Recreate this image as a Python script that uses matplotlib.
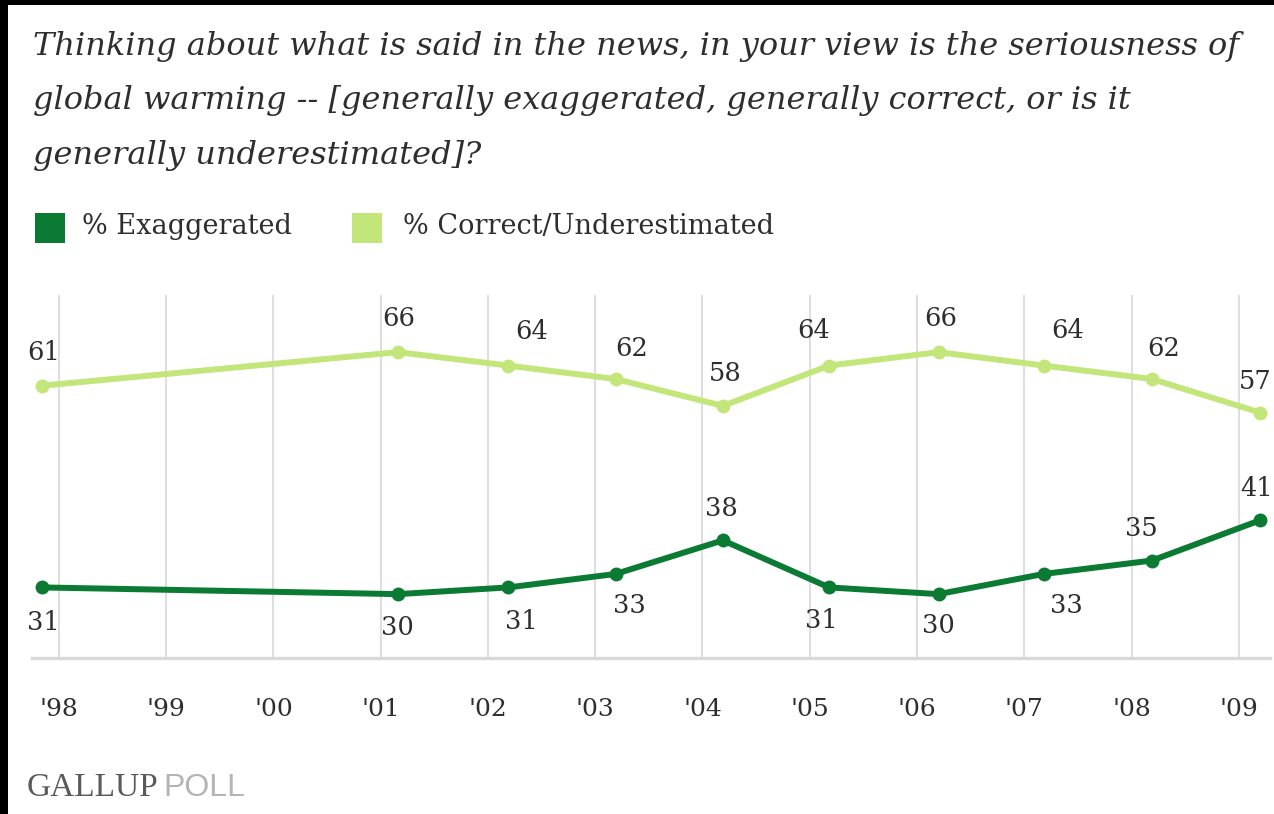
import matplotlib
matplotlib.use("Agg")
import matplotlib.pyplot as plt
from matplotlib.patches import Rectangle

# Poll dates as decimal years, values in percent
poll_dates = [1997.84, 2001.16, 2002.19, 2003.19, 2004.19, 2005.18,
              2006.20, 2007.18, 2008.19, 2009.20]
exaggerated = [31, 30, 31, 33, 38, 31, 30, 33, 35, 41]
correct_under = [61, 66, 64, 62, 58, 64, 66, 64, 62, 57]

tick_years = list(range(1998, 2010))
tick_labels = ["'98", "'99", "'00", "'01", "'02", "'03", "'04", "'05",
               "'06", "'07", "'08", "'09"]

series_names = ["% Exaggerated", "% Correct/Underestimated"]
title = ("Thinking about what is said in the news, in your view is the seriousness of\n"
         "global warming -- [generally exaggerated, generally correct, or is it\n"
         "generally underestimated]?")

DARK = "#0b7a33"
LIGHT = "#c3e67a"
TEXT = "#2e2e2e"
GRID = "#d4d4d4"

# label offsets (pixels) relative to each point
light_off = [(2, 33), (1, 34), (23, 34), (16, 31), (2, 32), (-15, 35),
             (2, 34), (24, 35), (12, 31), (-5, 31)]
dark_off = [(2, -35), (0, -33), (13, -34), (14, -32), (-1, 32), (-8, -33),
            (0, -31), (23, -32), (-11, 32), (-4, 32)]

W, H = 1274, 814
fig = plt.figure(figsize=(W / 100, H / 100), dpi=100)
fig.patch.set_facecolor("white")

def fx(px):
    return px / W

def fy(py):
    return 1 - py / H

ax = fig.add_axes([fx(32), fy(658), fx(1270) - fx(32), fy(295) - fy(658)])
ax.set_xlim(1997.75, 2009.29)
ax.set_ylim(20.5, 74.5)
ax.set_facecolor("white")
for s in ["top", "right", "left"]:
    ax.spines[s].set_visible(False)
ax.spines["bottom"].set_color("#d8d8d8")
ax.spines["bottom"].set_linewidth(2.4)

ax.set_xticks(tick_years)
ax.set_xticklabels(tick_labels, fontfamily="DejaVu Serif", fontsize=18, color=TEXT)
ax.tick_params(axis="x", length=0, pad=29)
ax.set_yticks([])
for yr in tick_years:
    ax.axvline(yr, color=GRID, lw=1.1, zorder=0)

ax.plot(poll_dates, correct_under, color=LIGHT, lw=4.3, marker="o", ms=9,
        solid_capstyle="round", zorder=3, clip_on=False)
ax.plot(poll_dates, exaggerated, color=DARK, lw=4.3, marker="o", ms=9,
        solid_capstyle="round", zorder=3, clip_on=False)

for xv, yv, (dx, dy) in zip(poll_dates, correct_under, light_off):
    ax.annotate(str(yv), (xv, yv), xytext=(dx, dy), textcoords="offset pixels",
                ha="center", va="center", fontfamily="DejaVu Serif",
                fontsize=18.5, color=TEXT, annotation_clip=False)
for xv, yv, (dx, dy) in zip(poll_dates, exaggerated, dark_off):
    ax.annotate(str(yv), (xv, yv), xytext=(dx, dy), textcoords="offset pixels",
                ha="center", va="center", fontfamily="DejaVu Serif",
                fontsize=18.5, color=TEXT, annotation_clip=False)

# question text
fig.text(fx(33), fy(31), title, ha="left", va="top", fontfamily="DejaVu Serif",
         style="italic", fontsize=23, color=TEXT, linespacing=1.97)

# legend
fig.add_artist(Rectangle((fx(35), fy(243)), fx(30), fy(213) - fy(243),
                         transform=fig.transFigure, color=DARK, lw=0))
fig.text(fx(82), fy(227), series_names[0], ha="left", va="center",
         fontfamily="DejaVu Serif", fontsize=19.5, color=TEXT)
fig.add_artist(Rectangle((fx(352), fy(243)), fx(30), fy(213) - fy(243),
                         transform=fig.transFigure, color=LIGHT, lw=0))
fig.text(fx(403), fy(227), series_names[1], ha="left", va="center",
         fontfamily="DejaVu Serif", fontsize=19.5, color=TEXT)

# source mark
fig.text(fx(27), fy(788), "GALLUP", ha="left", va="center",
         fontfamily="Liberation Serif", fontsize=24, color="#5a5a5a")
fig.text(fx(163), fy(788), "POLL", ha="left", va="center",
         fontfamily="Liberation Sans", fontsize=23, color="#b4b4b4")

# dark frame strips along the left and top edges
fig.add_artist(Rectangle((0, 0), fx(8), 1, transform=fig.transFigure,
                         color="black", lw=0, zorder=10))
fig.add_artist(Rectangle((0, fy(5)), 1, 5 / H,
                         transform=fig.transFigure, color="black", lw=0, zorder=10))

fig.savefig("out.png", dpi=100, facecolor="white")
